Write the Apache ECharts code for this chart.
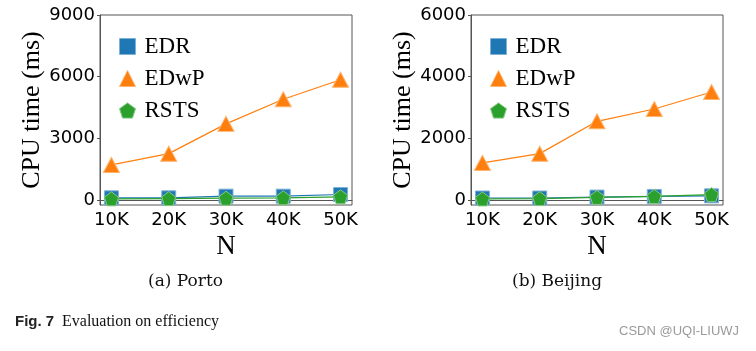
<!DOCTYPE html>
<html>
<head>
<meta charset="utf-8">
<script src="https://cdn.jsdelivr.net/npm/echarts@6/dist/echarts.min.js"></script>
<style>
html,body{margin:0;padding:0;background:#fff;}
#chart{width:756px;height:351px;}
</style>
</head>
<body>
<div id="chart"></div>
<script>
// ---- data ----
var nValues = [10000, 20000, 30000, 40000, 50000];
var xTickValues = [10000, 20000, 30000, 40000, 50000];
var portoYTicks = [0, 3000, 6000, 9000];
var beijingYTicks = [0, 2000, 4000, 6000];
var seriesNames = ['EDR', 'EDwP', 'RSTS'];

var portoEDR = [100, 100, 180, 180, 260];
var portoEDwP = [1700, 2250, 3700, 4900, 5850];
var portoRSTS = [50, 60, 80, 100, 150];

var beijingEDR = [60, 60, 90, 110, 130];
var beijingEDwP = [1200, 1500, 2550, 2950, 3500];
var beijingRSTS = [30, 40, 80, 110, 170];

var captionA = '(a) Porto';
var captionB = '(b) Beijing';
var figLabel = 'Fig. 7';
var figText = 'Evaluation on efficiency';
var watermark = 'CSDN @UQI-LIUWJ';
var yName = 'CPU time (ms)';
var xName = 'N';

// ---- styles ----
var colors = ['#1f77b4', '#ff7f0e', '#2ca02c'];
var edgeColors = ['#7fb0d6', '#ffb36e', '#85c985'];
var pentagon = 'path://M0,-10 L9.511,-3.09 L5.878,8.09 L-5.878,8.09 L-9.511,-3.09 Z';
var symbols = ['rect', 'triangle', pentagon];
var symbolSizes = [14, [16, 15], 14];
var frameColor = '#555';
var serif = 'Liberation Serif';

function zip(xs, ys) { return xs.map(function (x, i) { return [x, ys[i]]; }); }

var grids = [
  { left: 100, top: 15, width: 252, height: 190, show: true, borderColor: frameColor, borderWidth: 1, backgroundColor: 'transparent' },
  { left: 471, top: 15, width: 252, height: 190, show: true, borderColor: frameColor, borderWidth: 1, backgroundColor: 'transparent' }
];

function xAxis(gi) {
  return {
    type: 'value', gridIndex: gi, min: 8000, max: 52000,
    name: xName, nameLocation: 'middle', nameGap: 27,
    nameTextStyle: { fontFamily: serif, fontSize: 27, color: '#000' },
    axisLine: { show: true, lineStyle: { color: frameColor, width: 1 } },
    axisTick: { show: true, length: 3, customValues: xTickValues, lineStyle: { color: frameColor } },
    axisLabel: { customValues: xTickValues, margin: 6, fontFamily: 'DejaVu Sans', fontSize: 18, color: '#000',
      formatter: function (v) { return (v / 1000) + 'K'; } },
    splitLine: { show: false }
  };
}
function yAxis(gi, min, max, ticks) {
  return {
    type: 'value', gridIndex: gi, min: min, max: max,
    name: yName, nameLocation: 'middle', nameGap: 51, nameRotate: 90,
    nameTextStyle: { fontFamily: serif, fontSize: 26, color: '#000' },
    axisLine: { show: true, lineStyle: { color: frameColor, width: 1 } },
    axisTick: { show: true, length: 3, customValues: ticks, lineStyle: { color: frameColor } },
    axisLabel: { customValues: ticks, margin: 5, fontFamily: 'DejaVu Sans', fontSize: 18, color: '#000',
      formatter: function (v) { return String(v); } },
    splitLine: { show: false }
  };
}

function makeSeries(gi, dataArr) {
  return dataArr.map(function (d, k) {
    return {
      type: 'line', name: seriesNames[k], xAxisIndex: gi, yAxisIndex: gi,
      data: zip(nValues, d),
      symbol: symbols[k], symbolSize: symbolSizes[k], showAllSymbol: true,
      lineStyle: { color: colors[k], width: 1.2 },
      itemStyle: { color: colors[k], borderColor: edgeColors[k], borderWidth: 1, opacity: 1 },
      emphasis: { disabled: true },
      z: 2 + k, animation: false
    };
  });
}

var legendText = { fontFamily: serif, fontSize: 23, color: '#000', padding: [0, 0, 0, 4] };

function legend(left) {
  return {
    orient: 'vertical', left: left, top: 30, itemWidth: 16, itemHeight: 16, itemGap: 9,
    selectedMode: false,
    textStyle: legendText,
    data: seriesNames.map(function (n, k) {
      return { name: n, icon: symbols[k], textStyle: legendText,
        itemStyle: { color: colors[k], borderColor: edgeColors[k], borderWidth: 1 } };
    })
  };
}

var chart = echarts.init(document.getElementById('chart'), null, { renderer: 'canvas' });

var series0 = makeSeries(0, [portoEDR, portoEDwP, portoRSTS]);
var series1 = makeSeries(1, [beijingEDR, beijingEDwP, beijingRSTS]);

var option = {
  backgroundColor: '#fff',
  animation: false,
  grid: grids,
  xAxis: [xAxis(0), xAxis(1)],
  yAxis: [yAxis(0, -250, 9000, portoYTicks), yAxis(1, -167, 6000, beijingYTicks)],
  legend: [
    Object.assign(legend(114), { id: 'l0' }),
    Object.assign(legend(485), { id: 'l1' })
  ],
  series: series0.concat(series1),
  graphic: [
    { type: 'text', left: 148, top: 273, style: { text: captionA, font: '17px "DejaVu Serif"', fill: '#111' } },
    { type: 'text', left: 512, top: 273, style: { text: captionB, font: '17px "DejaVu Serif"', fill: '#111' } },
    { type: 'text', left: 15, top: 314, style: { text: figLabel, font: 'bold 15px "Liberation Sans"', fill: '#222' } },
    { type: 'text', left: 62, top: 314, style: { text: figText, font: '16px "Liberation Serif"', fill: '#111' } },
    { type: 'text', left: 619, top: 325, style: { text: watermark, font: '13px "Liberation Sans"', fill: '#9a9a9a' } }
  ]
};
chart.setOption(option);
</script>
</body>
</html>
